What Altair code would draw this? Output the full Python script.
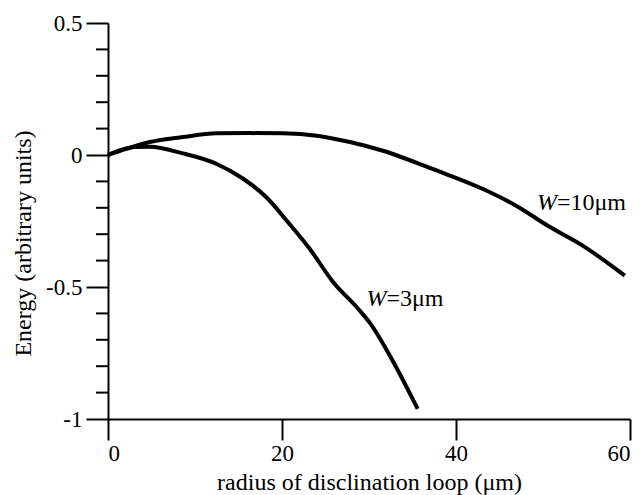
import altair as alt
import pandas as pd

# W = 10 um curve
radius_w10 = [0, 2.1, 4.8, 8.6, 12.5, 16.3, 20.1, 24.0, 27.8, 31.6, 37.3, 43.1, 46.9, 50.8, 54.6, 59.4]
energy_w10 = [0, 0.023, 0.049, 0.068, 0.082, 0.083, 0.082, 0.073, 0.049, 0.016, -0.053, -0.129, -0.192, -0.273, -0.344, -0.457]

# W = 3 um curve
radius_w3 = [0, 2.1, 3.1, 4.8, 8.6, 12.5, 15.5, 18.2, 20.7, 23.2, 25.8, 28.9, 30.1, 32.4, 35.6]
energy_w3 = [0, 0.025, 0.030, 0.031, 0.006, -0.034, -0.089, -0.160, -0.255, -0.356, -0.478, -0.588, -0.636, -0.760, -0.962]

series_names = ["W=10μm", "W=3μm"]
label_prefix = ["W", "W"]
label_suffix = ["=10μm", "=3μm"]
label_x = [49.3, 29.7]
label_y = [-0.208, -0.572]

x_ticks = [0, 20, 40, 60]
y_major = [-1, -0.5, 0, 0.5]
y_major_labels = ["-1", "-0.5", "0", "0.5"]
y_minor = [-0.9, -0.8, -0.7, -0.6, -0.4, -0.3, -0.2, -0.1, 0.1, 0.2, 0.3, 0.4]

FONT = "Liberation Serif"

df = pd.concat([
    pd.DataFrame({"r": radius_w10, "e": energy_w10, "series": series_names[0]}),
    pd.DataFrame({"r": radius_w3, "e": energy_w3, "series": series_names[1]}),
])
labels_df = pd.DataFrame({"series": series_names, "w": label_prefix, "rest": label_suffix,
                          "lx": label_x, "ly": label_y})
minor_df = pd.DataFrame({"v": y_minor})

y_label_expr = " : ".join(
    [f"abs(datum.value - ({v})) < 0.001 ? '{t}'" for v, t in zip(y_major, y_major_labels)]
) + " : ''"

x_scale = alt.Scale(domain=[0, 60], nice=False, zero=False)
y_scale = alt.Scale(domain=[-1, 0.5], nice=False, zero=False)

x_enc = alt.X("r:Q", scale=x_scale, axis=alt.Axis(
    values=x_ticks, format="d", title="radius of disclination loop (μm)",
    tickSize=21, labelPadding=2, titleY=63, titleBaseline="middle",
))
y_enc = alt.Y("e:Q", scale=y_scale, axis=alt.Axis(
    values=y_major, labelExpr=y_label_expr, title="Energy (arbitrary units)",
    tickSize=22, labelPadding=4, titleX=-85, titleY=220, titleBaseline="middle",
    titleAngle=-90, titleAnchor="middle",
))

lines = alt.Chart(df).mark_line(color="black", strokeWidth=4, interpolate="monotone").encode(
    x=x_enc, y=y_enc, detail="series:N"
)

minor = alt.Chart(minor_df).mark_rule(color="black", strokeWidth=2).encode(
    x=alt.value(-12), x2=alt.value(0), y=alt.Y("v:Q", scale=y_scale)
)

w_text = alt.Chart(labels_df).mark_text(
    align="left", baseline="alphabetic", font=FONT, fontSize=24, fontStyle="italic", color="black"
).encode(x=alt.X("lx:Q", scale=x_scale), y=alt.Y("ly:Q", scale=y_scale), text="w:N")

rest_text = alt.Chart(labels_df).mark_text(
    align="left", baseline="alphabetic", font=FONT, fontSize=24, color="black", dx=20
).encode(x=alt.X("lx:Q", scale=x_scale), y=alt.Y("ly:Q", scale=y_scale), text="rest:N")

chart = alt.layer(lines, minor, w_text, rest_text).properties(
    width=522, height=396,
    autosize=alt.AutoSizeParams(type="none"),
    padding={"left": 100, "top": 15, "right": 5, "bottom": 77},
    background="white",
).configure_view(stroke=None).configure_axis(
    grid=False, domainColor="black", domainWidth=2, tickColor="black", tickWidth=2,
    labelFont=FONT, labelFontSize=23, labelColor="black",
    titleFont=FONT, titleFontSize=24, titleFontWeight="normal", titleColor="black",
)

chart.save("out.html", embed_options={"renderer": "svg", "actions": False})
